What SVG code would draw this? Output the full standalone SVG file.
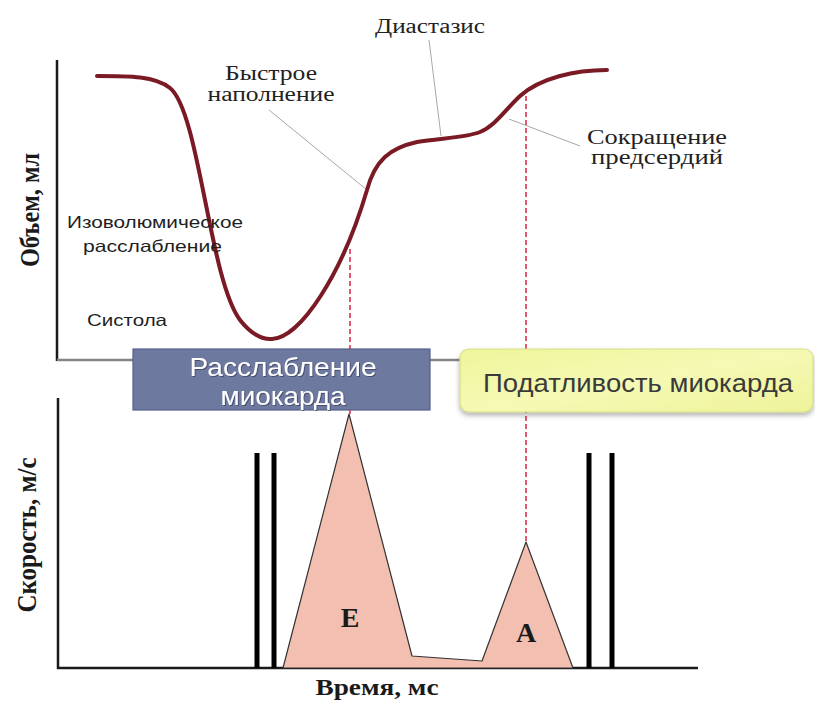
<svg xmlns="http://www.w3.org/2000/svg" width="815" height="702" viewBox="0 0 815 702">
<defs>
<linearGradient id="yel" x1="0" y1="0" x2="1" y2="1">
<stop offset="0" stop-color="#eef59a"/>
<stop offset="0.5" stop-color="#f5f9b4"/>
<stop offset="1" stop-color="#eef39a"/>
</linearGradient>
<filter id="shadow" x="-5%" y="-10%" width="110%" height="140%">
<feDropShadow dx="0" dy="3" stdDeviation="2.5" flood-color="#000" flood-opacity="0.3"/>
</filter>
<filter id="tshadow" x="-5%" y="-20%" width="110%" height="140%">
<feDropShadow dx="1" dy="1" stdDeviation="0.6" flood-color="#2a2f50" flood-opacity="0.6"/>
</filter>
<style>
.axis{stroke:#1a1a1a;stroke-width:2.5;fill:none}
.gline{stroke:#858585;stroke-width:2.5;fill:none}
.leader{stroke:#a8a8a8;stroke-width:1;fill:none}
.dash{stroke:#e0304f;stroke-width:1.6;stroke-dasharray:5,3;fill:none}
.curve{stroke:#7a1a24;stroke-width:4;fill:none;stroke-linecap:round}
.bar{stroke:#000;stroke-width:5;fill:none}
.serif{font-family:"Liberation Serif","DejaVu Serif",serif;fill:#222}
.sans{font-family:"Liberation Sans",Arial,sans-serif;fill:#1e1e1e}
.axlab{font-family:"Liberation Serif","DejaVu Serif",serif;font-weight:bold;fill:#1a1a1a}
</style>
</defs>
<rect width="815" height="702" fill="#fff"/>

<g id="connectors">
<line class="leader" x1="429" y1="40" x2="441" y2="136"/>
<line class="leader" x1="269" y1="110" x2="367" y2="190"/>
<line class="leader" x1="509" y1="119" x2="580" y2="146"/>
<line class="dash" x1="350" y1="249" x2="350" y2="414"/>
<line class="dash" x1="526" y1="96" x2="526" y2="542"/>
</g>

<g id="top-axes">
<line class="axis" x1="57" y1="60" x2="57" y2="361"/>
<line class="gline" x1="57" y1="360" x2="465" y2="360"/>
</g>

<g id="volume-curve">
<path class="curve" d="M 97,76 C 130,76 155,76 170,88 C 185,100 195,150 205,200 C 215,250 225,300 240,320 C 250,333 262,340 272,339 C 300,338 342,275 367,190 C 375,160 390,148 417,142 C 440,138 465,138 480,132 C 495,126 505,110 520,96 C 540,78 575,70 607,70"/>
</g>

<g id="label-diastasis">
<text class="serif" x="430" y="33" font-size="20" text-anchor="middle" textLength="110" lengthAdjust="spacingAndGlyphs">Диастазис</text>
</g>
<g id="label-fast-filling">
<text class="serif" x="271" y="80" font-size="20" text-anchor="middle" textLength="92" lengthAdjust="spacingAndGlyphs">Быстрое</text>
<text class="serif" x="271" y="101" font-size="20" text-anchor="middle" textLength="127" lengthAdjust="spacingAndGlyphs">наполнение</text>
</g>
<g id="label-atrial">
<text class="serif" x="657" y="144" font-size="20" text-anchor="middle" textLength="140" lengthAdjust="spacingAndGlyphs">Сокращение</text>
<text class="serif" x="657" y="164" font-size="20" text-anchor="middle" textLength="132" lengthAdjust="spacingAndGlyphs">предсердий</text>
</g>
<g id="label-isovolumic">
<text class="sans" x="67" y="228" font-size="16.5" textLength="176" lengthAdjust="spacingAndGlyphs">Изоволюмическое</text>
<text class="sans" x="83" y="252" font-size="16.5" textLength="139" lengthAdjust="spacingAndGlyphs">расслабление</text>
</g>
<g id="label-systole">
<text class="sans" x="87" y="326" font-size="16.5" textLength="80" lengthAdjust="spacingAndGlyphs">Систола</text>
</g>
<g id="label-volume-axis">
<text class="axlab" transform="translate(39,210) rotate(-90)" x="0" y="0" font-size="27" text-anchor="middle" textLength="114" lengthAdjust="spacingAndGlyphs">Объем, мл</text>
</g>

<g id="box-relaxation">
<rect x="133" y="349" width="297" height="61" fill="#6e79a0" stroke="#56608a" stroke-width="1.2"/>
<g filter="url(#tshadow)">
<text x="283" y="376" font-family="'Liberation Sans',Arial,sans-serif" font-size="26" fill="#fff" text-anchor="middle" textLength="187" lengthAdjust="spacingAndGlyphs">Расслабление</text>
<text x="283" y="405" font-family="'Liberation Sans',Arial,sans-serif" font-size="26" fill="#fff" text-anchor="middle" textLength="125" lengthAdjust="spacingAndGlyphs">миокарда</text>
</g>
</g>

<g id="box-compliance">
<rect x="460" y="349" width="353" height="63" rx="9" ry="9" fill="url(#yel)" stroke="#d6de86" stroke-width="1.2" filter="url(#shadow)"/>
<text x="638" y="392" font-family="'Liberation Sans',Arial,sans-serif" font-size="25" fill="#3a3a3a" text-anchor="middle" textLength="310" lengthAdjust="spacingAndGlyphs">Податливость миокарда</text>
</g>

<g id="bottom-axes">
<line class="axis" x1="58" y1="398" x2="58" y2="669"/>
<line class="axis" x1="57" y1="668" x2="698" y2="668" stroke="#333"/>
</g>

<g id="valve-bars">
<line class="bar" x1="257" y1="453" x2="257" y2="668"/>
<line class="bar" x1="274" y1="453" x2="274" y2="668"/>
<line class="bar" x1="589" y1="453" x2="589" y2="668"/>
<line class="bar" x1="612" y1="453" x2="612" y2="668"/>
</g>

<g id="flow-waves">
<polygon points="283,668 349,414 412,656 482,661 526,542 573,668" fill="#f2bfb0" stroke="#333" stroke-width="1.2" stroke-linejoin="round"/>
</g>
<g id="label-E">
<text class="axlab" x="350" y="627" font-size="28" text-anchor="middle">E</text>
</g>
<g id="label-A">
<text class="axlab" x="526" y="642" font-size="28" text-anchor="middle">A</text>
</g>

<g id="label-velocity-axis">
<text class="axlab" transform="translate(36,535) rotate(-90)" x="0" y="0" font-size="27" text-anchor="middle" textLength="155" lengthAdjust="spacingAndGlyphs">Скорость, м/с</text>
</g>
<g id="label-time-axis">
<text class="axlab" x="377" y="695" font-size="24" text-anchor="middle" textLength="123" lengthAdjust="spacingAndGlyphs">Время, мс</text>
</g>
</svg>
